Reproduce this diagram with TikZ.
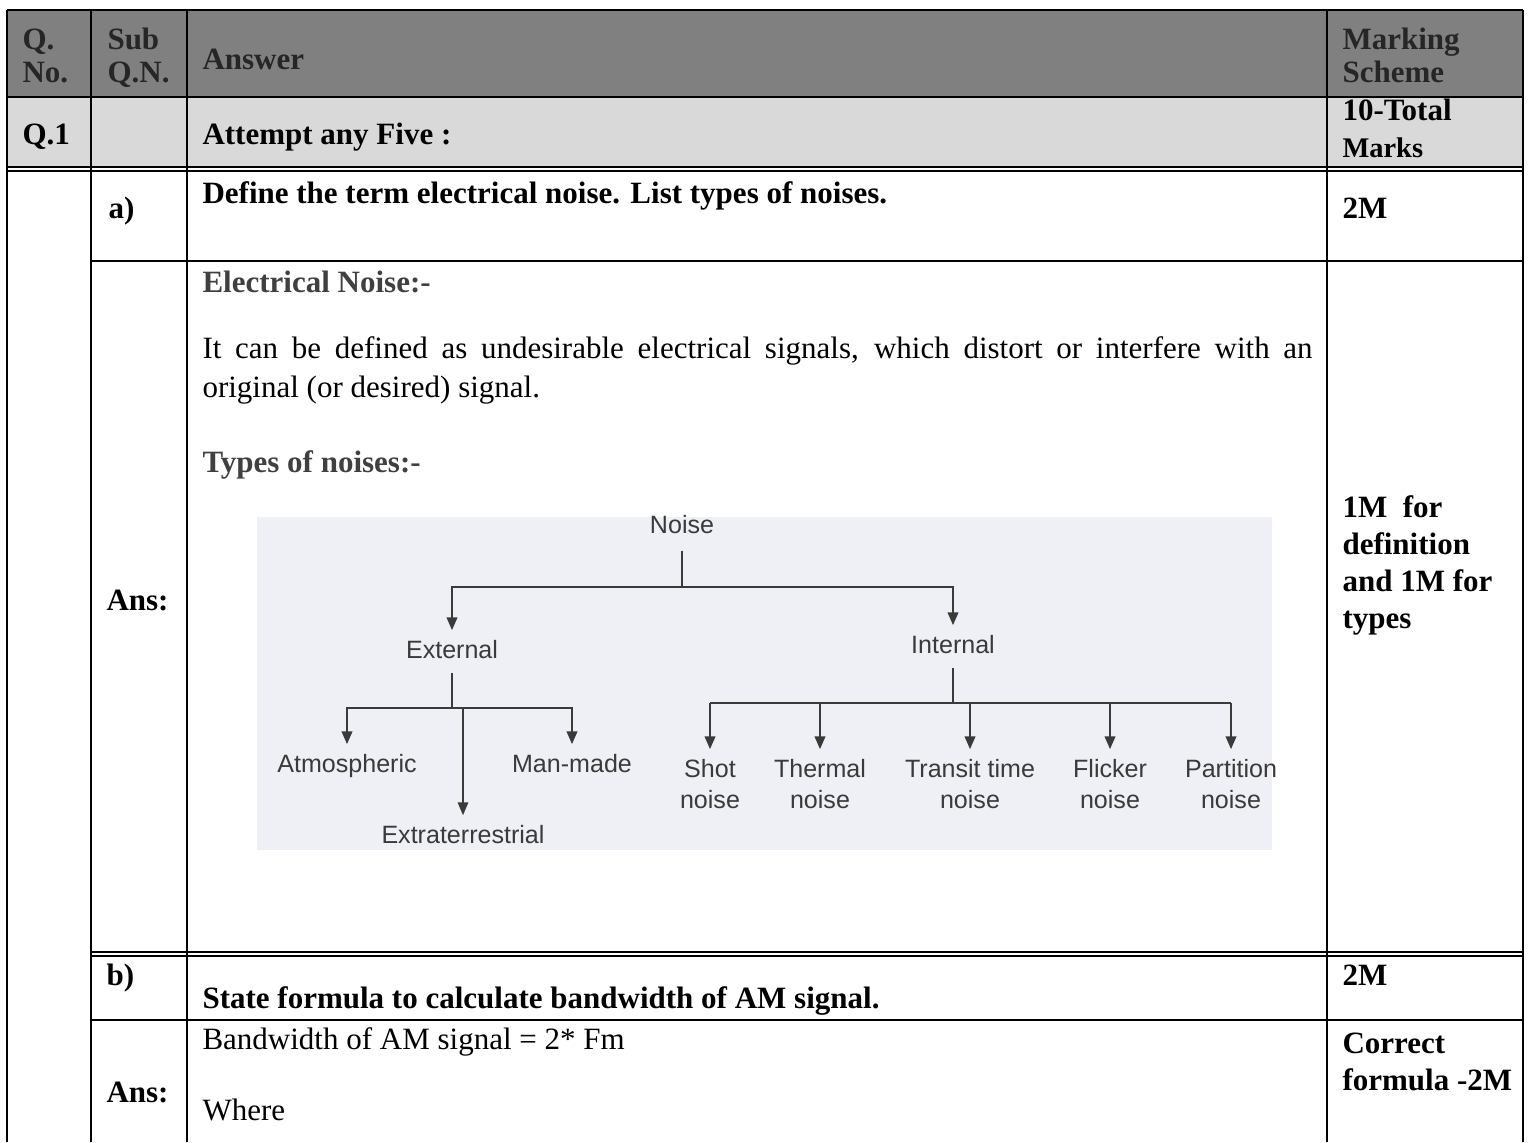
\documentclass[tikz,border=0pt]{standalone}
\usepackage{fontspec}
\setmainfont{Liberation Serif}
\setsansfont{Liberation Sans}
\usetikzlibrary{arrows.meta,positioning,calc}
\definecolor{hdrgray}{HTML}{808080}
\definecolor{rowgray}{HTML}{D9D9D9}
\definecolor{scanbg}{HTML}{EEF0F5}
\definecolor{inkgray}{HTML}{3A3A3A}
\definecolor{headgray}{HTML}{404040}

\begin{document}
\begin{tikzpicture}[x=0.387pt,y=-0.387pt,
  tbl/.style={line width=0.9pt},
  dbl/.style={line width=0.65pt},
  cell/.style={anchor=base west,inner sep=0pt,align=left,font=\fontsize{12}{12.4}\selectfont\bfseries},
  plain/.style={cell,font=\fontsize{12}{15.1}\selectfont},
  lbl/.style={inner sep=3.5pt,align=center,anchor=base,text=inkgray,font=\sffamily\fontsize{9.7}{12}\selectfont},
  arr/.style={draw=inkgray,line width=1pt,-{Triangle[length=5pt,width=4pt]}},
  stem/.style={draw=inkgray,line width=1pt}]
  \useasboundingbox (0,0) rectangle (1533,1142);
  \fill[white] (0,0) rectangle (1533,1142);
  % table shading and rules
  \fill[hdrgray] (7,10) rectangle (1523,97);
  \fill[rowgray] (7,97) rectangle (1523,167);
  \foreach \yy in {10,97}
    \draw[tbl] (7,\yy) -- (1523,\yy);
  \foreach \yy in {167,171}
    \draw[dbl] (7,\yy) -- (1523,\yy);
  \foreach \yy in {261,1020}
    \draw[tbl] (91,\yy) -- (1523,\yy);
  \foreach \yy in {952,956}
    \draw[dbl] (91,\yy) -- (1523,\yy);
  \foreach \xx in {7,91,187,1327,1523}
    \draw[tbl] (\xx,10) -- (\xx,1142);
  % header rows (multi-line cells sit on their last baseline)
  \node[cell,text=black!85] (qno) at (22,82) {Q.\\No.};
  \node[cell,text=black!85] (subq) at (107,82) {Sub\\Q.N.};
  \node[cell,text=black!85] (anshd) at (202,69) {Answer};
  \node[cell,text=black!85] (markhd) at (1342,82) {Marking\\Scheme};
  \node[cell] (qone) at (22,144) {Q.1};
  \node[cell] (attempt) at (202,144) {Attempt any Five :};
  \node[cell,font=\fontsize{12}{14.3}\selectfont\bfseries] (total) at (1342,157) {10-Total\\\fontsize{11}{14.3}\selectfont Marks};
  % question a)
  \node[cell] (suba) at (108,218) {a)};
  \node[cell] (qa) at (202,203) {Define the term electrical noise. List types of noises.};
  \node[cell] (marka) at (1342,218) {2M};
  \node[cell] (ansa) at (106,610) {Ans:};
  \node[cell,text=headgray] (elhd) at (202,292) {Electrical Noise:-};
  \node[plain,text width=429.6pt,align=justify] (defn) at (202,358) {It can be defined as undesirable electrical signals, which distort or interfere with an\linebreak original (or desired) signal.};
  \node[cell,text=headgray] (typhd) at (202,472) {Types of noises:-};
  \node[cell,font=\fontsize{12}{14.3}\selectfont\bfseries] (markdef) at (1342,628) {1M\ \ for\\definition\\and 1M for\\types};
  % noise tree
  \fill[scanbg] (257,517) rectangle (1272,850);
  \node[lbl] (noise) at (682,533) {Noise};
  \node[lbl] (ext) at (452,658) {External};
  \node[lbl] (int) at (953,653) {Internal};
  \node[lbl] (atm) at (347,772) {Atmospheric};
  \node[lbl] (man) at (572,772) {Man-made};
  \node[lbl] (extra) at (463,843) {Extraterrestrial};
  \foreach \nm/\xx/\lab in {shot/710/Shot,therm/820/Thermal,trans/970/Transit time,flick/1110/Flicker,part/1231/Partition}
    \node[lbl] (\nm) at (\xx,808) {\lab\\noise};
  \coordinate (nj) at (684,587);
  \draw[stem,shorten <=3pt] (noise.south) -- (noise.south |- nj);
  \draw[arr] (noise.south |- nj) -| (ext.north);
  \draw[arr] (noise.south |- nj) -| (int.north);
  \coordinate (ej) at (452,708);
  \draw[stem,shorten <=2pt] (ext.south) -- (ext.south |- ej);
  \draw[arr] (ext.south |- ej) -| (atm.north);
  \draw[arr] (ext.south |- ej) -| (man.north);
  \draw[arr,line width=0.7pt] (extra.north |- ej) -- (extra.north);
  \coordinate (ij) at (952,703);
  \draw[stem,shorten <=2pt] (int.south) -- (int.south |- ij);
  \draw[stem] (shot.north |- ij) -- (part.north |- ij);
  \foreach \nm in {shot,therm,trans,flick,part}
    \draw[arr] (\nm.north |- ij) -- (\nm.north);
  % question b)
  \node[cell] (subb) at (106,985) {b)};
  \node[cell] (qb) at (202,1008) {State formula to calculate bandwidth of AM signal.};
  \node[cell] (markb) at (1342,985) {2M};
  \node[cell] (ansb) at (106,1102) {Ans:};
  \node[plain] (bw) at (202,1049) {Bandwidth of AM signal = 2* Fm};
  \node[plain] (where) at (202,1120) {Where};
  \node[cell,font=\fontsize{12}{14.3}\selectfont\bfseries] (markc) at (1342,1090) {Correct\\formula -2M};
\end{tikzpicture}
\end{document}
